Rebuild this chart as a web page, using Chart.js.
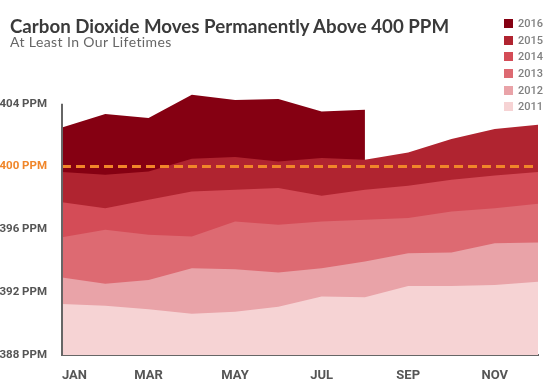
<!DOCTYPE html>
<html>
<head>
<meta charset="utf-8">
<script src="https://cdn.jsdelivr.net/npm/chart.js@4/dist/chart.umd.min.js"></script>
<style>
  html, body { margin: 0; padding: 0; background: #fff; }
  #wrap { position: relative; width: 543px; height: 385px; overflow: hidden; }
  #chart { position: absolute; left: 0; top: 0; }
  #title { position: absolute; left: 10px; top: 15px; margin: 0; font: 700 18.7px Lato, sans-serif; color: #3a3a3a; white-space: nowrap; }
  #subtitle { position: absolute; left: 10px; top: 33px; margin: 0; font: 400 14px Lato, sans-serif; letter-spacing: 0.4px; color: #666; white-space: nowrap; }
  #legend { position: absolute; left: 504px; top: 17px; }
  #legend div { height: 16.7px; font: 500 11px Roboto, sans-serif; color: #808080; line-height: 13px; white-space: nowrap; }
  #legend span { display: inline-block; width: 9px; height: 9px; margin-right: 5px; vertical-align: -1px; }
</style>
</head>
<body>
<div id="wrap">
  <canvas id="chart" width="543" height="385"></canvas>
  <div id="title">Carbon Dioxide Moves Permanently Above 400 PPM</div>
  <div id="subtitle">At Least In Our Lifetimes</div>
  <div id="legend"></div>
</div>
<script>
const months = ['JAN', 'FEB', 'MAR', 'APR', 'MAY', 'JUN', 'JUL', 'AUG', 'SEP', 'OCT', 'NOV', 'DEC'];
const years = ['2011', '2012', '2013', '2014', '2015', '2016'];

// monthly CO2 readings (ppm)
const co2_2011 = [391.25, 391.13, 390.92, 390.62, 390.76, 391.08, 391.72, 391.68, 392.40, 392.40, 392.46, 392.67];
const co2_2012 = [392.93, 392.53, 392.78, 393.53, 393.46, 393.25, 393.53, 393.95, 394.48, 394.52, 395.12, 395.16];
const co2_2013 = [395.50, 395.97, 395.65, 395.54, 396.50, 396.29, 396.50, 396.61, 396.72, 397.14, 397.35, 397.63];
const co2_2014 = [397.73, 397.35, 397.88, 398.41, 398.52, 398.63, 398.14, 398.52, 398.77, 399.16, 399.43, 399.65];
const co2_2015 = [399.65, 399.47, 399.69, 400.49, 400.60, 400.32, 400.54, 400.43, 400.90, 401.75, 402.39, 402.66];
const co2_2016 = [402.49, 403.34, 403.09, 404.57, 404.24, 404.30, 403.51, 403.62]; // Jan-Aug only

const yTicks = [388, 392, 396, 400, 404];
const threshold = 400;

const series = [co2_2011, co2_2012, co2_2013, co2_2014, co2_2015, co2_2016];
const colors = ['#f6d3d4', '#e9a3a8', '#dd6a72', '#d44c57', '#b02430', '#850012'];
const orange = '#f0862a';
const axisGray = '#666';

const yFont = { family: 'Roboto, sans-serif', size: 11.5, weight: 'bold' };
const xFont = { family: 'Roboto, sans-serif', size: 13, weight: 'bold' };

// earlier years drawn on top, so the list goes threshold, 2011 ... 2016
const datasets = [{
  label: '400 PPM',
  data: months.map(() => threshold),
  borderColor: orange,
  borderWidth: 3,
  borderDash: [9, 5],
  pointRadius: 0,
  fill: false
}];
years.forEach((yr, i) => {
  datasets.push({
    label: yr,
    data: series[i],
    backgroundColor: colors[i],
    borderWidth: 0,
    pointRadius: 0,
    tension: 0,
    fill: 'start'
  });
});

const yAxisLine = {
  id: 'yAxisLine',
  afterDatasetsDraw(chart) {
    const { ctx, chartArea, scales } = chart;
    ctx.save();
    ctx.strokeStyle = axisGray;
    ctx.lineWidth = 2;
    ctx.beginPath();
    ctx.moveTo(chartArea.left, scales.y.getPixelForValue(yTicks[yTicks.length - 1]));
    ctx.lineTo(chartArea.left, chartArea.bottom + 1);
    ctx.stroke();
    ctx.restore();
  }
};

new Chart(document.getElementById('chart'), {
  type: 'line',
  data: { labels: months, datasets },
  options: {
    responsive: false,
    animation: false,
    layout: { padding: { top: 88, right: 3, left: 0, bottom: 0 } },
    plugins: { legend: { display: false }, tooltip: { enabled: false } },
    scales: {
      x: {
        z: 1,
        grid: { display: false },
        border: { display: true, color: axisGray, width: 2 },
        afterFit: s => { s.height = 30; },
        ticks: {
          autoSkip: false,
          maxRotation: 0,
          align: 'inner',
          padding: 5,
          color: '#555',
          font: xFont,
          callback: (v, i) => (i % 2 === 0 ? months[i] : '')
        }
      },
      y: {
        min: 388,
        max: 405,
        grid: { display: false },
        border: { display: false },
        afterFit: s => { s.width = 62; },
        afterBuildTicks: s => { s.ticks = yTicks.map(v => ({ value: v })); },
        ticks: {
          padding: 7,
          font: yFont,
          color: c => (c.tick && c.tick.value === threshold ? orange : '#555'),
          callback: v => v + ' PPM'
        }
      }
    }
  },
  plugins: [yAxisLine]
});

const legend = document.getElementById('legend');
years.slice().reverse().forEach(yr => {
  const i = years.indexOf(yr);
  const row = document.createElement('div');
  row.innerHTML = `<span style="background:${colors[i]}"></span>${yr}`;
  legend.appendChild(row);
});
</script>
</body>
</html>
